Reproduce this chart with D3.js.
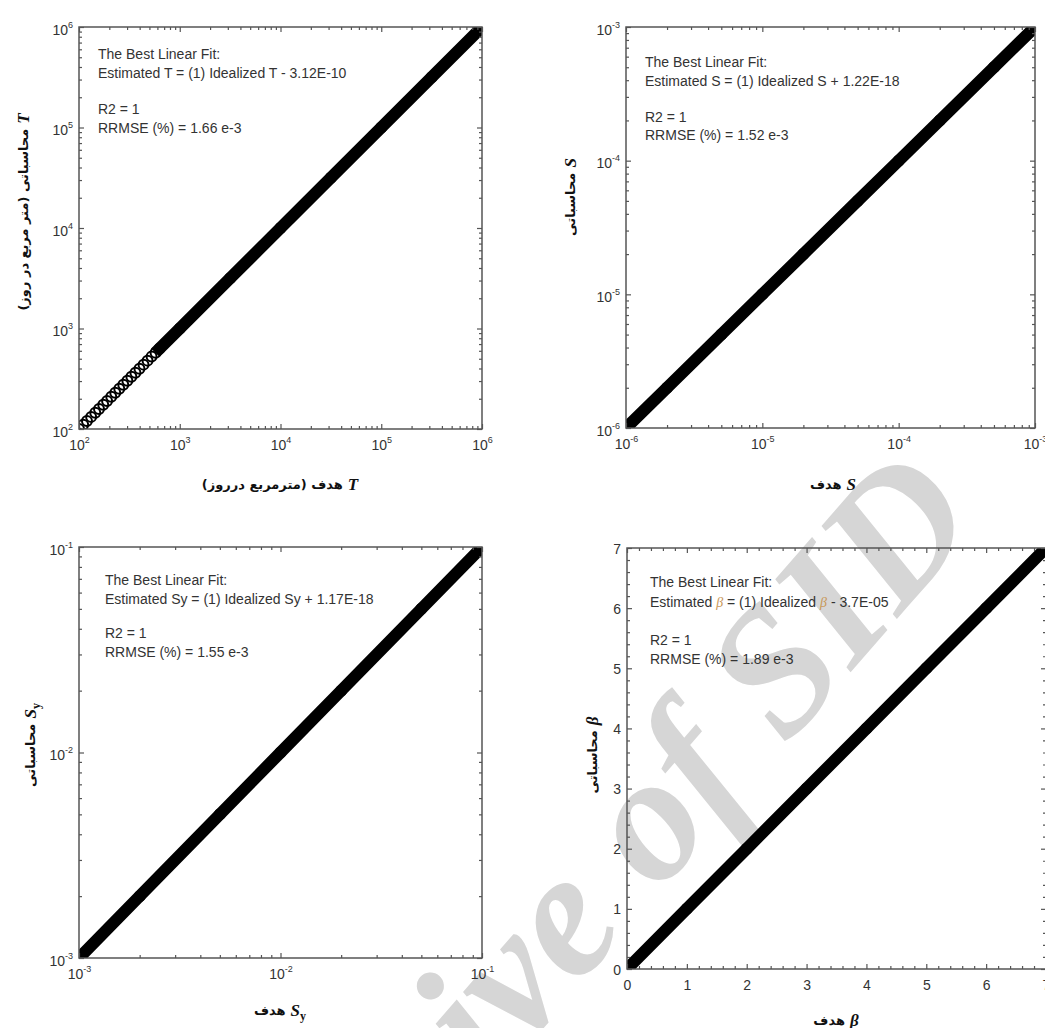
<!DOCTYPE html>
<html>
<head>
<meta charset="utf-8">
<title>Estimated vs idealized aquifer parameters</title>
<script src="https://d3js.org/d3.v7.min.js"></script>
<style>
body { margin: 0; background: #fff; }
text { font-family: "Liberation Sans", Arial, sans-serif; }
</style>
</head>
<body>
<script>

// values (idealized = target, estimated = model output)
var tIdeal = [100, 110, 120, 132, 145, 158, 174, 190, 209, 229, 251, 275, 302, 331, 363, 398, 437, 479, 525, 575, 631, 1000, 3160, 10000, 31600, 100000, 316000, 1000000];
var tEstimated = [100, 110, 120, 132, 145, 158, 174, 190, 209, 229, 251, 275, 302, 331, 363, 398, 437, 479, 525, 575, 631, 1000, 3160, 10000, 31600, 100000, 316000, 1000000];

var sIdeal = [1e-6, 2e-6, 5e-6, 1e-5, 2e-5, 5e-5, 1e-4, 2e-4, 5e-4, 1e-3];
var sEstimated = [1e-6, 2e-6, 5e-6, 1e-5, 2e-5, 5e-5, 1e-4, 2e-4, 5e-4, 1e-3];

var syIdeal = [1e-3, 2e-3, 5e-3, 1e-2, 2e-2, 5e-2, 1e-1];
var syEstimated = [1e-3, 2e-3, 5e-3, 1e-2, 2e-2, 5e-2, 1e-1];

var betaIdeal = [0, 1, 2, 3, 4, 5, 6, 7];
var betaEstimated = [0, 1, 2, 3, 4, 5, 6, 7];

var tTicks = [1e2, 1e3, 1e4, 1e5, 1e6];
var sTicks = [1e-6, 1e-5, 1e-4, 1e-3];
var syTicks = [1e-3, 1e-2, 1e-1];
var betaTicks = [0, 1, 2, 3, 4, 5, 6, 7];

var tFit = ["The Best Linear Fit:", "Estimated T = (1) Idealized T - 3.12E-10", "R2 = 1", "RRMSE (%) = 1.66 e-3"];
var sFit = ["The Best Linear Fit:", "Estimated S = (1) Idealized S + 1.22E-18", "R2 = 1", "RRMSE (%) = 1.52 e-3"];
var syFit = ["The Best Linear Fit:", "Estimated Sy = (1) Idealized Sy + 1.17E-18", "R2 = 1", "RRMSE (%) = 1.55 e-3"];
var betaFit = ["The Best Linear Fit:", "Estimated \u03b2 = (1) Idealized \u03b2 - 3.7E-05", "R2 = 1", "RRMSE (%) = 1.89 e-3"];


var svg = d3.select("body").append("svg").attr("width", 1045).attr("height", 1028);

// watermark behind everything
svg.append("text")
	.attr("transform", "translate(983,520) rotate(-49)")
	.attr("text-anchor", "end")
	.style("font-family", "'Liberation Serif', serif")
	.style("font-weight", "bold")
	.style("font-style", "italic")
	.style("font-size", "180px")
	.attr("fill", "#d6d6d6")
	.text("Archive of SID");

var panels = [
	{ideal: tIdeal, est: tEstimated, solidFrom: 600, log: true, domain: [1e2, 1e6], ticks: tTicks,
	 box: {l: 79, r: 482, t: 27, b: 429}, fit: tFit, fitX: 19, fitY: [32, 51, 87, 106],
	 xt: {fa: "هدف (مترمربع درروز)", sym: "T", cx: 280, cy: 484},
	 yt: {fa: "محاسباتی (متر مربع در روز)", sym: "T", cx: 23, cy: 212}},
	{ideal: sIdeal, est: sEstimated, solidFrom: 0, log: true, domain: [1e-6, 1e-3], ticks: sTicks,
	 box: {l: 626, r: 1035, t: 27, b: 428}, fit: sFit, fitX: 19, fitY: [40, 59, 95, 113],
	 xt: {fa: "هدف", sym: "S", cx: 833, cy: 484},
	 yt: {fa: "محاسباتی", sym: "S", cx: 570, cy: 197}},
	{ideal: syIdeal, est: syEstimated, solidFrom: 0, log: true, domain: [1e-3, 1e-1], ticks: syTicks,
	 box: {l: 79, r: 482, t: 547, b: 958}, fit: syFit, fitX: 26, fitY: [38, 57, 91, 110],
	 xt: {fa: "هدف", sym: "S", sub: "y", cx: 280, cy: 1010},
	 yt: {fa: "محاسباتی", sym: "S", sub: "y", cx: 30, cy: 745}},
	{ideal: betaIdeal, est: betaEstimated, solidFrom: 0, log: false, domain: [0, 7], ticks: betaTicks,
	 box: {l: 627, r: 1046, t: 548, b: 969}, fit: betaFit, fitX: 23, fitY: [39, 59, 97, 116], greek: true,
	 xt: {fa: "هدف", sym: "\u03b2", cx: 836, cy: 1020},
	 yt: {fa: "محاسباتی", sym: "\u03b2", cx: 592, cy: 755}}
];

var axisColor = "#555";

panels.forEach(function(p, i) {
	var b = p.box;
	var x = (p.log ? d3.scaleLog() : d3.scaleLinear()).domain(p.domain).range([b.l, b.r]);
	var y = (p.log ? d3.scaleLog() : d3.scaleLinear()).domain(p.domain).range([b.b, b.t]);
	var g = svg.append("g");

	var minor;
	if (p.log) {
		minor = x.ticks().filter(function(v) { return p.ticks.indexOf(v) < 0; });
	} else {
		minor = d3.range(p.domain[0], p.domain[1] + 0.001, 0.2).filter(function(v) {
			return Math.abs(v - Math.round(v)) > 0.01;
		});
	}

	g.append("clipPath").attr("id", "clip" + i)
		.append("rect").attr("x", b.l).attr("y", b.t).attr("width", b.r - b.l).attr("height", b.b - b.t);

	var pts = p.ideal.map(function(v, k) { return [v, p.est[k]]; });
	var plot = g.append("g").attr("clip-path", "url(#clip" + i + ")");

	plot.append("path")
		.datum(pts.filter(function(d) { return d[0] >= p.solidFrom; }))
		.attr("d", d3.line().x(function(d) { return x(d[0]); }).y(function(d) { return y(d[1]); }))
		.attr("fill", "none")
		.attr("stroke", "#000")
		.attr("stroke-width", 12)
		.attr("stroke-linecap", "square");

	plot.selectAll("circle").data(pts).enter().append("circle")
		.attr("cx", function(d) { return x(d[0]); })
		.attr("cy", function(d) { return y(d[1]); })
		.attr("r", 5)
		.attr("fill", "none")
		.attr("stroke", "#000")
		.attr("stroke-width", 2);

	// ticks on all four sides, pointing in
	function ticks(axis, tr, vals, len) {
		var a = g.append("g").attr("transform", tr).attr("color", axisColor)
			.call(axis.tickValues(vals).tickSize(-len).tickSizeOuter(0).tickFormat(""));
		a.select(".domain").remove();
		a.selectAll("line").attr("stroke-width", 1.2);
		return a;
	}
	var xb = ticks(d3.axisBottom(x), "translate(0," + b.b + ")", p.ticks, 5);
	ticks(d3.axisBottom(x), "translate(0," + b.b + ")", minor, 3);
	ticks(d3.axisTop(x), "translate(0," + b.t + ")", p.ticks, 5);
	ticks(d3.axisTop(x), "translate(0," + b.t + ")", minor, 3);
	var yl = ticks(d3.axisLeft(y), "translate(" + b.l + ",0)", p.ticks, 5);
	ticks(d3.axisLeft(y), "translate(" + b.l + ",0)", minor, 3);
	ticks(d3.axisRight(y), "translate(" + b.r + ",0)", p.ticks, 5);
	ticks(d3.axisRight(y), "translate(" + b.r + ",0)", minor, 3);

	g.append("rect").attr("x", b.l).attr("y", b.t).attr("width", b.r - b.l).attr("height", b.b - b.t)
		.attr("fill", "none").attr("stroke", axisColor).attr("stroke-width", 1.5);

	function label(sel) {
		sel.each(function(v) {
			var t = d3.select(this).attr("fill", "#333").style("font-size", "14px");
			if (p.log) {
				t.append("tspan").text("10");
				t.append("tspan").attr("dy", -7).style("font-size", "9px").text(Math.round(Math.log10(v)));
			} else {
				t.text(v);
			}
		});
	}
	xb.selectAll(".tick text").attr("y", 21).attr("dy", null).call(label);
	yl.selectAll(".tick text").attr("x", -6).attr("dy", p.log ? 7 : 5).call(label);

	// fit summary
	var fit = g.append("g").attr("fill", "#333").style("font-size", "14px");
	p.fit.forEach(function(line, k) {
		var t = fit.append("text").attr("x", b.l + p.fitX).attr("y", b.t + p.fitY[k]);
		if (p.greek && line.indexOf("\u03b2") >= 0) {
			line.split("\u03b2").forEach(function(part, j) {
				if (j > 0) t.append("tspan").attr("fill", "#c8985a").style("font-style", "italic")
					.style("font-family", "'Liberation Serif', serif").text("\u03b2");
				t.append("tspan").text(part);
			});
		} else {
			t.text(line);
		}
	});

	axisTitle(p.xt, false);
	axisTitle(p.yt, true);

	function axisTitle(tt, rot) {
		var grp = g.append("g").attr("transform", "translate(" + tt.cx + "," + tt.cy + ")" + (rot ? " rotate(-90)" : ""));
		var fa = grp.append("text").attr("direction", "rtl").attr("text-anchor", "middle").attr("dy", "0.35em")
			.style("font-family", "'DejaVu Sans', sans-serif").style("font-weight", "bold").style("font-size", "13px")
			.attr("fill", "#111").text(tt.fa);
		var sym = grp.append("text").attr("dy", "0.35em").attr("fill", "#111")
			.style("font-family", "'Liberation Serif', serif").style("font-weight", "bold").style("font-size", "17px");
		sym.append("tspan").style("font-style", "italic").text(tt.sym);
		if (tt.sub) sym.append("tspan").attr("dy", 4).style("font-size", "12px").text(tt.sub);
		var wf = fa.node().getComputedTextLength();
		var ws = sym.node().getComputedTextLength();
		var left = -(wf + 5 + ws) / 2;
		fa.attr("x", left + wf / 2);
		sym.attr("x", left + wf + 5);
	}
});

</script>
</body>
</html>
